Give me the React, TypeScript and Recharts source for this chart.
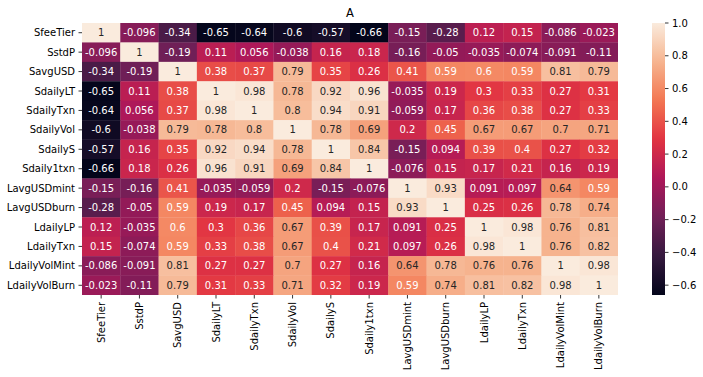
import React from "react";
import { ScatterChart, Scatter, XAxis, YAxis, Customized } from "recharts";

const title = "A";
const labels = [
  "SfeeTier", "SstdP", "SavgUSD", "SdailyLT", "SdailyTxn", "SdailyVol", "SdailyS",
  "Sdaily1txn", "LavgUSDmint", "LavgUSDburn", "LdailyLP", "LdailyTxn", "LdailyVolMint", "LdailyVolBurn",
];

const rowSfeeTier = [1, -0.096, -0.34, -0.65, -0.64, -0.6, -0.57, -0.66, -0.15, -0.28, 0.12, 0.15, -0.086, -0.023];
const rowSstdP = [-0.096, 1, -0.19, 0.11, 0.056, -0.038, 0.16, 0.18, -0.16, -0.05, -0.035, -0.074, -0.091, -0.11];
const rowSavgUSD = [-0.34, -0.19, 1, 0.38, 0.37, 0.79, 0.35, 0.26, 0.41, 0.59, 0.6, 0.59, 0.81, 0.79];
const rowSdailyLT = [-0.65, 0.11, 0.38, 1, 0.98, 0.78, 0.92, 0.96, -0.035, 0.19, 0.3, 0.33, 0.27, 0.31];
const rowSdailyTxn = [-0.64, 0.056, 0.37, 0.98, 1, 0.8, 0.94, 0.91, -0.059, 0.17, 0.36, 0.38, 0.27, 0.33];
const rowSdailyVol = [-0.6, -0.038, 0.79, 0.78, 0.8, 1, 0.78, 0.69, 0.2, 0.45, 0.67, 0.67, 0.7, 0.71];
const rowSdailyS = [-0.57, 0.16, 0.35, 0.92, 0.94, 0.78, 1, 0.84, -0.15, 0.094, 0.39, 0.4, 0.27, 0.32];
const rowSdaily1txn = [-0.66, 0.18, 0.26, 0.96, 0.91, 0.69, 0.84, 1, -0.076, 0.15, 0.17, 0.21, 0.16, 0.19];
const rowLavgUSDmint = [-0.15, -0.16, 0.41, -0.035, -0.059, 0.2, -0.15, -0.076, 1, 0.93, 0.091, 0.097, 0.64, 0.59];
const rowLavgUSDburn = [-0.28, -0.05, 0.59, 0.19, 0.17, 0.45, 0.094, 0.15, 0.93, 1, 0.25, 0.26, 0.78, 0.74];
const rowLdailyLP = [0.12, -0.035, 0.6, 0.3, 0.36, 0.67, 0.39, 0.17, 0.091, 0.25, 1, 0.98, 0.76, 0.81];
const rowLdailyTxn = [0.15, -0.074, 0.59, 0.33, 0.38, 0.67, 0.4, 0.21, 0.097, 0.26, 0.98, 1, 0.76, 0.82];
const rowLdailyVolMint = [-0.086, -0.091, 0.81, 0.27, 0.27, 0.7, 0.27, 0.16, 0.64, 0.78, 0.76, 0.76, 1, 0.98];
const rowLdailyVolBurn = [-0.023, -0.11, 0.79, 0.31, 0.33, 0.71, 0.32, 0.19, 0.59, 0.74, 0.81, 0.82, 0.98, 1];

const matrix = [
  rowSfeeTier, rowSstdP, rowSavgUSD, rowSdailyLT, rowSdailyTxn, rowSdailyVol, rowSdailyS,
  rowSdaily1txn, rowLavgUSDmint, rowLavgUSDburn, rowLdailyLP, rowLdailyTxn, rowLdailyVolMint, rowLdailyVolBurn,
];

const colorbarTicks = [1.0, 0.8, 0.6, 0.4, 0.2, 0.0, -0.2, -0.4, -0.6];

const VMIN = -0.66;
const VMAX = 1.0;

const W = 703;
const H = 377;
const M = { top: 23, right: 85, bottom: 0, left: 0 };
const YAXIS_W = 82;
const XAXIS_H = 82;
const PLOT_W = W - M.left - M.right - YAXIS_W;
const PLOT_H = H - M.top - M.bottom - XAXIS_H;
const N = labels.length;
const CW = PLOT_W / N;
const CH = PLOT_H / N;

const FONT = "'DejaVu Sans', sans-serif";

const ROCKET: [number, number, number][] = [
  [3, 5, 26],
  [53, 25, 62],
  [112, 31, 87],
  [173, 23, 89],
  [225, 51, 66],
  [243, 118, 81],
  [246, 180, 143],
  [250, 235, 221],
];

function rocketRGB(t: number): [number, number, number] {
  const tt = Math.max(0, Math.min(1, t));
  const seg = tt * (ROCKET.length - 1);
  const i = Math.min(ROCKET.length - 2, Math.floor(seg));
  const f = seg - i;
  const a = ROCKET[i];
  const b = ROCKET[i + 1];
  return [a[0] + (b[0] - a[0]) * f, a[1] + (b[1] - a[1]) * f, a[2] + (b[2] - a[2]) * f];
}

function toHex(c: [number, number, number]) {
  return "#" + c.map((v) => Math.round(v).toString(16).padStart(2, "0")).join("");
}

function valueColor(v: number) {
  return rocketRGB((v - VMIN) / (VMAX - VMIN));
}

function luminance(c: [number, number, number]) {
  const lin = c.map((v) => {
    const s = v / 255;
    return s <= 0.03928 ? s / 12.92 : Math.pow((s + 0.055) / 1.055, 2.4);
  });
  return 0.2126 * lin[0] + 0.7152 * lin[1] + 0.0722 * lin[2];
}

function fmt(v: number) {
  return String(Number(v.toPrecision(2)));
}

const cells = matrix.flatMap((row, i) =>
  row.map((v, j) => ({ x: j + 0.5, y: i + 0.5, v }))
);

const ticks = labels.map((_, i) => i + 0.5);

const CellShape = (props: any) => {
  const { cx, cy, payload } = props;
  if (cx == null || cy == null) return null;
  const rgb = valueColor(payload.v);
  const textColor = luminance(rgb) > 0.408 ? "#262626" : "#ffffff";
  return (
    <g>
      <rect x={cx - CW / 2} y={cy - CH / 2} width={CW + 0.3} height={CH + 0.3} fill={toHex(rgb)} />
      <text x={cx} y={cy} dy="0.35em" textAnchor="middle" fontFamily={FONT} fontSize={10} fill={textColor}>
        {fmt(payload.v)}
      </text>
    </g>
  );
};

const XTick = (props: any) => {
  const { x, y, payload } = props;
  const idx = Math.round(payload.value - 0.5);
  return (
    <text
      x={x}
      y={y}
      transform={`rotate(-90, ${x}, ${y})`}
      textAnchor="end"
      dy="0.35em"
      fontFamily={FONT}
      fontSize={10}
      fill="#000"
    >
      {labels[idx]}
    </text>
  );
};

const YTick = (props: any) => {
  const { x, y, payload } = props;
  const idx = Math.round(payload.value - 0.5);
  return (
    <text x={x} y={y} textAnchor="end" dy="0.35em" fontFamily={FONT} fontSize={10} fill="#000">
      {labels[idx]}
    </text>
  );
};

const CB_X = 652;
const CB_W = 13;
const CB_TOP = M.top;
const CB_BOTTOM = M.top + PLOT_H;

const Extras = () => {
  const stops = [];
  for (let k = 0; k <= 40; k++) {
    const t = k / 40;
    stops.push(<stop key={k} offset={t} stopColor={toHex(rocketRGB(1 - t))} />);
  }
  const vy = (v: number) => CB_TOP + ((VMAX - v) / (VMAX - VMIN)) * (CB_BOTTOM - CB_TOP);
  return (
    <g>
      <defs>
        <linearGradient id="cbgrad" x1="0" y1="0" x2="0" y2="1">
          {stops}
        </linearGradient>
      </defs>
      <rect x={CB_X} y={CB_TOP} width={CB_W} height={CB_BOTTOM - CB_TOP} fill="url(#cbgrad)" />
      {colorbarTicks.map((v) => (
        <g key={v}>
          <line x1={CB_X + CB_W} x2={CB_X + CB_W + 3.5} y1={vy(v)} y2={vy(v)} stroke="#000" strokeWidth={0.8} />
          <text x={CB_X + CB_W + 7} y={vy(v)} dy="0.35em" fontFamily={FONT} fontSize={10} fill="#000">
            {v < 0 ? "\u2212" + Math.abs(v).toFixed(1) : v.toFixed(1)}
          </text>
        </g>
      ))}
      <text
        x={M.left + YAXIS_W + PLOT_W / 2}
        y={17}
        textAnchor="middle"
        fontFamily={FONT}
        fontSize={11.5}
        fill="#000"
      >
        {title}
      </text>
    </g>
  );
};

export default function App() {
  return (
    <div style={{ position: "absolute", left: 0, top: 0, width: W, height: H, background: "#fff" }}>
      <ScatterChart width={W} height={H} margin={M}>
        <XAxis
          type="number"
          dataKey="x"
          domain={[0, N]}
          ticks={ticks}
          interval={0}
          height={XAXIS_H}
          axisLine={false}
          tickLine={{ stroke: "#000", strokeWidth: 0.8 }}
          tickSize={3.5}
          tickMargin={3.5}
          tick={<XTick />}
          allowDataOverflow
        />
        <YAxis
          type="number"
          dataKey="y"
          domain={[0, N]}
          reversed
          ticks={ticks}
          interval={0}
          width={YAXIS_W}
          axisLine={false}
          tickLine={{ stroke: "#000", strokeWidth: 0.8 }}
          tickSize={3.5}
          tickMargin={3.5}
          tick={<YTick />}
          allowDataOverflow
        />
        <Scatter data={cells} shape={<CellShape />} isAnimationActive={false} />
        <Customized component={<Extras />} />
      </ScatterChart>
    </div>
  );
}
